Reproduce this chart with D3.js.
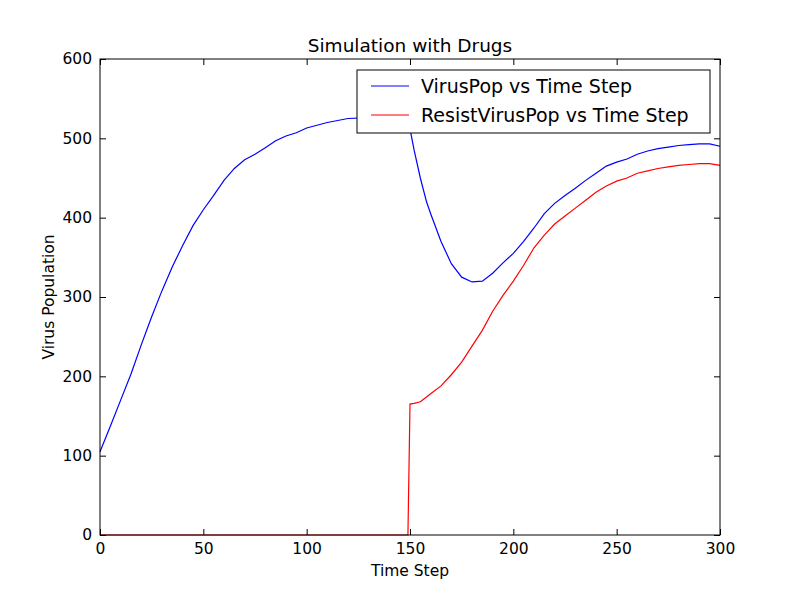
<!DOCTYPE html>
<html>
<head>
<script src="https://d3js.org/d3.v7.min.js"></script>
<style>
  body { margin: 0; background: #fff; }
  text { font-family: "DejaVu Sans", sans-serif; }
</style>
</head>
<body>
<svg width="800" height="595"></svg>
<script>
// time steps and populations
const steps = [0, 5, 10, 15, 20, 25, 30, 35, 40, 45, 50, 55, 60, 65, 70, 75, 80, 85, 90, 95, 100,
  110, 120, 130, 140, 148, 149, 150, 152, 155, 158, 160, 165, 170, 175, 180, 185, 190, 195, 200,
  205, 210, 215, 220, 225, 230, 235, 240, 245, 250, 255, 260, 265, 270, 275, 280, 285, 290, 295, 300];
const virusPop = [105, 137, 170, 203, 240, 275, 308, 338, 365, 390, 410, 428, 447, 462, 473, 480, 488, 497, 503, 507, 513,
  520, 525, 526, 528, 530, 530, 512, 485, 450, 420, 405, 370, 342, 325, 319, 320, 330, 343, 355,
  370, 387, 405, 418, 428, 437, 447, 456, 465, 470, 474, 480, 484, 487, 489, 491, 492, 493, 493, 490];
const resistPop = [0, 0, 0, 0, 0, 0, 0, 0, 0, 0, 0, 0, 0, 0, 0, 0, 0, 0, 0, 0, 0,
  0, 0, 0, 0, 0, 0, 165, 166, 168, 174, 178, 188, 202, 218, 238, 258, 282, 302, 320,
  340, 362, 378, 392, 402, 412, 422, 432, 440, 446, 450, 456, 459, 462, 464, 466, 467, 468, 468, 466];
const xTicks = [0, 50, 100, 150, 200, 250, 300];
const yTicks = [0, 100, 200, 300, 400, 500, 600];
const seriesNames = ["VirusPop vs Time Step", "ResistVirusPop vs Time Step"];
const colors = ["#0000ff", "#ff0000"];

const svg = d3.select("svg");
const L = 100, R = 720, T = 59, B = 535;
const x = d3.scaleLinear().domain([0, 300]).range([L, R]);
const y = d3.scaleLinear().domain([0, 600]).range([B, T]);

const line = d3.line().x((d, i) => x(steps[i])).y(d => y(d));
[virusPop, resistPop].forEach((s, k) => {
  svg.append("path").attr("d", line(s)).attr("fill", "none")
    .attr("stroke", colors[k]).attr("stroke-width", 1.2);
});

// axes: ticks inside, on all four sides
const fs = "15.5px";
svg.append("g").attr("transform", `translate(0,${B})`)
  .call(d3.axisBottom(x).tickValues(xTicks).tickSize(-6).tickPadding(8))
  .call(g => g.selectAll("text").style("font-size", fs));
svg.append("g").attr("transform", `translate(0,${T})`)
  .call(d3.axisTop(x).tickValues(xTicks).tickSize(-6).tickFormat(""));
svg.append("g").attr("transform", `translate(${L},0)`)
  .call(d3.axisLeft(y).tickValues(yTicks).tickSize(-6).tickPadding(8))
  .call(g => g.selectAll("text").style("font-size", fs));
svg.append("g").attr("transform", `translate(${R},0)`)
  .call(d3.axisRight(y).tickValues(yTicks).tickSize(-6).tickFormat(""));
svg.selectAll(".domain").remove();
svg.append("rect").attr("x", L).attr("y", T).attr("width", R - L).attr("height", B - T)
  .attr("fill", "none").attr("stroke", "#000");

svg.append("text").attr("x", (L + R) / 2).attr("y", 52).attr("text-anchor", "middle")
  .style("font-size", "18.5px").text("Simulation with Drugs");
svg.append("text").attr("x", (L + R) / 2).attr("y", 576).attr("text-anchor", "middle")
  .style("font-size", "15.5px").text("Time Step");
svg.append("text").attr("transform", `translate(54,${(T + B) / 2}) rotate(-90)`)
  .attr("text-anchor", "middle").style("font-size", "15.5px").text("Virus Population");

// legend
const lg = svg.append("g").attr("transform", "translate(357,70)");
lg.append("rect").attr("width", 353).attr("height", 63).attr("fill", "#fff").attr("stroke", "#000");
seriesNames.forEach((n, k) => {
  const yy = 16 + k * 29;
  lg.append("line").attr("x1", 14).attr("x2", 52).attr("y1", yy).attr("y2", yy)
    .attr("stroke", colors[k]).attr("stroke-width", 1.2);
  lg.append("text").attr("x", 64).attr("y", yy + 7).style("font-size", "19px").text(n);
});
</script>
</body>
</html>
